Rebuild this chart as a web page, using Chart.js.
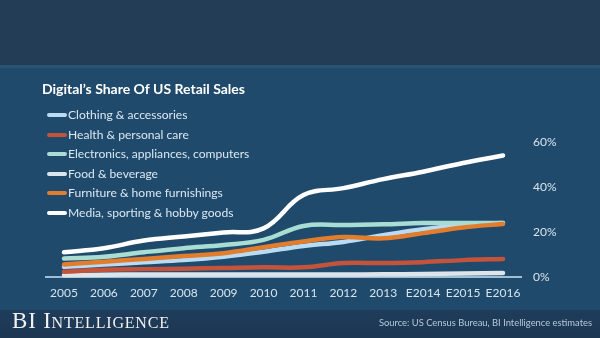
<!DOCTYPE html>
<html>
<head>
<meta charset="utf-8">
<script src="https://cdn.jsdelivr.net/npm/chart.js@4/dist/chart.umd.min.js"></script>
<style>
  html, body { margin:0; padding:0; width:600px; height:338px; overflow:hidden; font-family: Lato, "Open Sans", sans-serif; }
  #bgTop { position:absolute; left:0; top:0; width:600px; height:65px; background:#243d56; }
  #bgLine { position:absolute; left:0; top:65px; width:600px; height:3px; background:#2a5374; }
  #bgMain { position:absolute; left:0; top:68px; width:600px; height:242px; background:#1f4a6b; }
  #bgBot { position:absolute; left:0; top:310px; width:600px; height:28px; background:linear-gradient(#1e3d5b,#1d3652); }
  #wrap { position:absolute; left:0; top:0; width:600px; height:338px; }
  #title { position:absolute; left:42px; top:80px; color:#ffffff; font-weight:bold; font-size:14px; font-family: Lato, sans-serif; white-space:nowrap; }
  #legend { position:absolute; left:47px; top:105px; }
  .li { position:relative; height:19.6px; line-height:19px; color:#dbe8f3; font-size:12.1px; white-space:nowrap; }
  .sw { display:inline-block; width:20px; height:4px; border-radius:2px; vertical-align:middle; margin-right:1px; position:relative; top:-1px; }
  #brand { position:absolute; left:12px; top:308px; color:#f2f2f2; font-family:"Liberation Serif","DejaVu Serif",serif; font-size:23px; font-variant:small-caps; letter-spacing:0.8px; white-space:nowrap; }
  #source { position:absolute; right:8px; top:317px; color:#b8c8d8; font-size:9.4px; white-space:nowrap; }
</style>
</head>
<body>
<div id="bgTop"></div><div id="bgLine"></div><div id="bgMain"></div><div id="bgBot"></div>
<div id="wrap"><canvas id="c" width="600" height="338"></canvas></div>
<div id="title">Digital’s Share Of US Retail Sales</div>
<div id="legend"></div>
<div id="brand">BI Intelligence</div>
<div id="source">Source: US Census Bureau, BI Intelligence estimates</div>
<script>
const categories = ["2005","2006","2007","2008","2009","2010","2011","2012","2013","E2014","E2015","E2016"];
const yTicks = [0, 20, 40, 60];

const seriesNames = [
  "Clothing & accessories",
  "Health & personal care",
  "Electronics, appliances, computers",
  "Food & beverage",
  "Furniture & home furnishings",
  "Media, sporting & hobby goods"
];
const clothing    = [4.5, 5.5, 6.5, 7.5, 9.0, 11.2, 13.8, 15.6, 18.6, 21.2, 23.0, 24.0];
const health      = [2.3, 3.2, 3.5, 3.7, 4.0, 4.3, 4.3, 6.2, 6.2, 6.6, 7.5, 8.0];
const electronics = [8.2, 9.0, 11.0, 12.8, 14.2, 16.5, 22.7, 23.1, 23.4, 24.0, 24.0, 24.0];
const food        = [0.8, 1.0, 1.1, 1.1, 1.1, 1.1, 1.1, 1.1, 1.2, 1.3, 1.6, 1.8];
const furniture   = [5.6, 6.8, 8.0, 9.3, 10.6, 13.2, 15.8, 17.8, 17.2, 19.5, 22.0, 23.6];
const media       = [11.0, 12.8, 16.2, 18.0, 19.8, 21.6, 36.4, 39.5, 43.5, 46.8, 50.7, 54.0];

const seriesValues = [clothing, health, electronics, food, furniture, media];
const seriesColors = ["#b9dcf4", "#c4533b", "#a9ddd3", "#dde4ea", "#e27d2e", "#ffffff"];
const drawOrder    = [3, 4, 2, 5, 1, 0];

// HTML legend
const leg = document.getElementById('legend');
seriesNames.forEach((n, i) => {
  const d = document.createElement('div');
  d.className = 'li';
  d.innerHTML = '<span class="sw" style="background:' + seriesColors[i] + '"></span>' + n.replace(/&/g,'&amp;');
  leg.appendChild(d);
});

const zeroLine = {
  id: 'zeroLine',
  beforeDatasetsDraw(chart) {
    const y = chart.scales.y.getPixelForValue(0);
    const ctx = chart.ctx;
    ctx.save();
    ctx.strokeStyle = '#cde6f6';
    ctx.lineWidth = 1.5;
    ctx.beginPath();
    ctx.moveTo(chart.chartArea.left - 19, y);
    ctx.lineTo(chart.chartArea.right + 19, y);
    ctx.stroke();
    ctx.restore();
  }
};

new Chart(document.getElementById('c'), {
  type: 'line',
  data: {
    labels: categories,
    datasets: seriesNames.map((n, i) => ({
      label: n,
      data: seriesValues[i],
      borderColor: seriesColors[i],
      backgroundColor: seriesColors[i],
      borderWidth: 4.5,
      pointRadius: 0,
      tension: 0.4,
      borderCapStyle: 'round',
      borderJoinStyle: 'round',
      fill: false,
      order: drawOrder[i],
      clip: false
    }))
  },
  options: {
    responsive: false,
    animation: false,
    events: [],
    layout: { padding: { left: 64, top: 142, right: 0, bottom: 0 } },
    plugins: { legend: { display: false }, tooltip: { enabled: false } },
    scales: {
      x: {
        offset: false,
        grid: { display: false, drawTicks: false },
        border: { display: false },
        ticks: { color: '#d6e4f0', font: { family: 'Lato', size: 12 }, padding: 9, maxRotation: 0, autoSkip: false },
        afterFit(s) { s.height = 61; }
      },
      y: {
        position: 'right',
        min: 0, max: 60,
        grid: { display: false, drawTicks: false },
        border: { display: false },
        afterBuildTicks(s) { s.ticks = yTicks.map(v => ({ value: v })); },
        ticks: { color: '#d6e4f0', font: { family: 'Lato', size: 12 }, padding: 30, callback: v => v + '%' },
        afterFit(s) { s.width = 97; }
      }
    }
  },
  plugins: [zeroLine]
});
</script>
</body>
</html>
